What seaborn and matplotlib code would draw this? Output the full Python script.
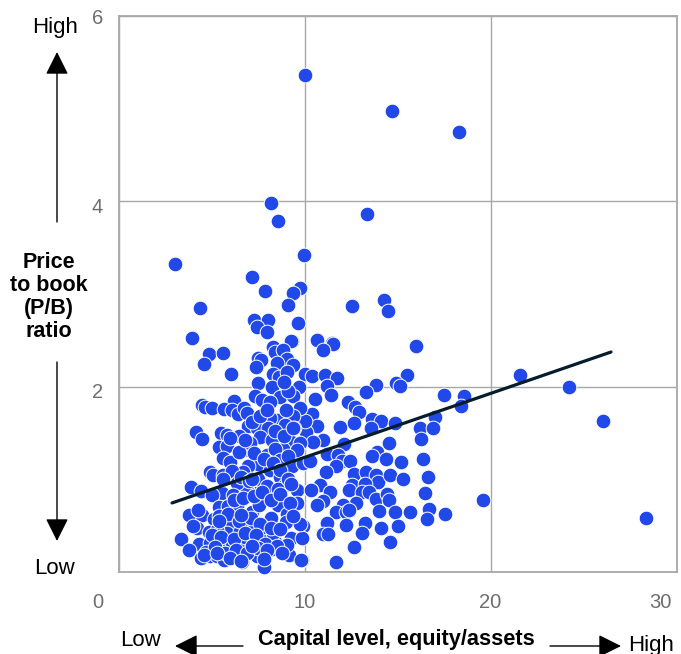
import pandas as pd
import matplotlib
matplotlib.use('Agg')
import matplotlib.pyplot as plt
from matplotlib.patches import FancyArrowPatch
from matplotlib.transforms import ScaledTranslation
import seaborn as sns

capital = [
    10.0, 14.7, 18.3, 8.2, 8.58, 13.36, 9.97, 3.04, 7.18, 7.88, 9.76, 9.38, 9.11, 4.38, 12.55, 14.27, 14.49,
    7.28, 8.04, 9.65, 7.45, 7.98, 10.67, 11.48, 11.0, 9.33, 16.0, 21.59, 24.2, 26.05, 28.36, 19.6,
    10.66, 11.53, 11.01, 15.53, 13.86, 13.31, 14.9, 15.15, 17.52, 18.58, 18.42,
    10.05, 10.42, 11.09, 11.73, 11.23, 11.41, 10.55, 12.36, 12.72, 12.91, 13.63, 14.13, 14.87, 17.02, 16.21, 16.91, 16.27,
    11.93, 12.68, 13.58, 10.42, 10.66, 10.06, 10.03, 11.0, 12.13, 10.48, 11.19, 14.56, 13.92, 13.61, 14.38, 15.19, 16.39,
    16.64, 16.5, 16.71, 16.57, 17.57, 11.82, 12.0, 12.45, 11.7, 11.16, 10.84, 10.37, 11.36, 12.66, 13.31, 13.83, 13.97,
    14.6, 15.28, 12.54, 13.25, 12.41, 13.08, 13.47, 13.85, 14.42, 14.53, 12.77, 14.03, 14.85, 15.69, 10.66, 11.01, 12.09,
    11.68, 12.23, 12.41, 11.19, 12.23, 13.27, 13.09, 14.1, 15.03, 14.62, 12.66, 10.98, 11.28, 11.68, 9.85, 9.85, 9.94,
    3.97, 4.85, 5.6, 4.61, 6.07, 8.32, 9.27, 8.41, 8.84, 9.04, 7.52, 7.64, 7.37, 8.5, 9.4, 8.32, 8.65, 9.04, 7.48, 8.23,
    9.72, 8.68, 9.4, 7.34, 7.7, 8.14, 6.23, 4.47, 4.65, 5.01, 5.67, 6.08, 6.44, 6.76, 6.93, 7.82, 9.76, 9.4, 8.5, 8.14,
    8.95, 6.98, 7.46, 8.05, 9.45, 7.6, 8.23, 9.22, 9.76, 4.17, 4.47, 5.49, 5.85, 6.5, 5.38, 5.81, 7.03, 7.07, 8.82, 7.96,
    8.41, 9.58, 5.64, 5.99, 7.52, 6.98, 8.68, 9.31, 9.94, 4.92, 5.1, 5.64, 6.71, 6.08, 8.14, 8.68, 8.95, 3.88, 4.42, 7.55,
    6.93, 6.35, 5.58, 5.01, 6.17, 7.96, 8.56, 9.58, 9.58, 10.35, 10.65, 5.38, 5.9, 6.35, 7.16, 7.57, 8.18, 9.04, 8.99,
    3.81, 4.47, 4.29, 5.13, 6.07, 6.71, 7.21, 4.2, 3.99, 4.88, 5.81, 5.56, 3.34, 4.33, 3.81, 4.92, 7.07, 7.7, 8.41, 8.32,
    9.25, 9.85, 9.76, 6.44, 7.57, 4.43, 4.92, 5.31, 5.69, 6.62, 7.43, 7.82, 9.18, 9.79, 8.23, 6.08, 9.04, 6.53, 7.79, 6.8, 5.28,
    7.2, 7.6, 8.0, 8.4, 8.9, 7.3, 7.8, 8.3, 8.7, 9.1, 6.6, 7.0, 7.5, 8.0, 8.6, 9.1, 6.2, 6.7, 7.3, 7.7, 8.2, 8.7, 5.4, 5.9,
    6.5, 7.1, 7.6, 8.2, 8.7, 5.0, 5.5, 6.2, 6.8, 7.4, 7.9, 8.5, 4.7, 5.2, 5.7, 6.3, 6.9, 7.5, 8.0, 8.8, 4.6, 5.3, 6.0, 6.6,
    7.2, 7.8, 5.6, 6.5, 6.0, 6.8, 7.2, 9.2, 9.3, 9.4, 9.0, 9.1, 8.9, 5.4, 6.6, 9.4, 10.3,
]
pb_ratio = [
    5.36, 4.98, 4.75, 3.98, 3.79, 3.86, 3.42, 3.32, 3.18, 3.03, 3.06, 3.01, 2.88, 2.85, 2.87, 2.94, 2.82,
    2.72, 2.72, 2.69, 2.64, 2.59, 2.50, 2.47, 2.40, 2.49, 2.44, 2.13, 2.0, 1.63, 0.58, 0.78,
    2.50, 2.46, 2.40, 2.13, 2.02, 1.94, 2.04, 2.01, 1.91, 1.90, 1.79,
    2.14, 2.11, 2.13, 2.09, 2.01, 1.91, 1.87, 1.83, 1.78, 1.73, 1.65, 1.63, 1.61, 1.67, 1.55, 1.55, 1.43,
    1.56, 1.61, 1.55, 1.70, 1.58, 1.51, 1.63, 1.42, 1.38, 1.40, 1.27, 1.39, 1.30, 1.25, 1.22, 1.19, 1.22,
    1.02, 0.85, 0.68, 0.57, 0.63, 1.26, 1.20, 1.20, 1.14, 1.08, 0.94, 0.89, 0.86, 1.06, 1.08, 1.05, 0.97,
    1.05, 1.0, 0.94, 0.95, 0.88, 0.86, 0.86, 0.79, 0.84, 0.78, 0.74, 0.66, 0.65, 0.65, 0.72, 0.77, 0.72,
    0.65, 0.65, 0.67, 0.53, 0.51, 0.53, 0.42, 0.48, 0.50, 0.32, 0.27, 0.41, 0.41, 0.11, 0.13, 0.38, 0.50,
    2.52, 2.35, 2.36, 2.24, 2.14, 2.43, 2.49, 2.37, 2.40, 2.30, 2.31, 2.29, 2.21, 2.26, 2.23, 2.14, 2.10, 2.16, 2.04, 2.0,
    2.0, 1.89, 1.90, 1.90, 1.86, 1.83, 1.85, 1.80, 1.78, 1.77, 1.76, 1.75, 1.71, 1.77, 1.72, 1.70, 1.77, 1.68, 1.64, 1.66,
    1.59, 1.58, 1.55, 1.55, 1.55, 1.46, 1.42, 1.41, 1.39, 1.51, 1.43, 1.50, 1.48, 1.47, 1.35, 1.36, 1.32, 1.39, 1.33, 1.26,
    1.33, 1.32, 1.23, 1.19, 1.17, 1.14, 1.21, 1.14, 1.18, 1.08, 1.05, 1.05, 1.08, 1.09, 1.10, 1.03, 0.94, 0.92, 0.87, 0.96,
    0.89, 0.96, 0.85, 0.83, 0.83, 0.80, 0.72, 0.88, 0.75, 0.88, 0.72, 0.70, 0.71, 0.71, 0.65, 0.72, 0.58, 0.63, 0.54,
    0.62, 0.61, 0.67, 0.57, 0.54, 0.52, 0.45, 0.47, 0.50, 0.43, 0.42, 0.35, 0.36, 0.30, 0.24, 0.31, 0.33, 0.36, 0.32, 0.42,
    0.37, 0.37, 0.52, 0.26, 0.23, 0.15, 0.17, 0.17, 0.13, 0.11, 0.17, 0.05, 0.18, 0.13, 0.25, 0.31, 0.29, 0.44, 0.49, 0.38, 0.45,
    1.62, 1.68, 1.75, 1.52, 1.47, 1.28, 1.22, 1.18, 1.10, 1.25, 1.02, 0.98, 1.0, 0.93, 0.90, 1.0, 0.78, 0.80, 0.82, 0.86, 0.78, 0.84, 0.60, 0.63,
    0.55, 0.58, 0.52, 0.48, 0.46, 0.40, 0.38, 0.36, 0.42, 0.40, 0.30, 0.28, 0.22, 0.27, 0.20, 0.24, 0.20, 0.26, 0.24, 0.20, 0.18, 0.21, 0.15, 0.12,
    0.28, 0.14, 1.0, 1.3, 1.45, 1.42, 1.0, 0.75, 0.95, 1.55, 1.75, 1.95, 2.05, 0.55, 0.62, 0.6, 1.2,
]
trend_capital = [2.88, 26.48]
trend_pb = [0.745, 2.374]

x_ticks = [0, 10, 20, 30]
y_ticks = [2, 4, 6]

W, H = 681, 654


def px(x, y):
    """Pixel position in the picture to figure fraction."""
    return x / W, 1 - y / H


def arrow(fig, start, end):
    fig.add_artist(FancyArrowPatch(
        px(*start), px(*end), transform=fig.transFigure, arrowstyle='-|>,head_length=1.0,head_width=0.5',
        color='black', lw=1.0, mutation_scale=14, shrinkA=0, shrinkB=0))


def nudge(label, dx, dy):
    """Shift a tick label by some pixels."""
    label.set_transform(label.get_transform() + ScaledTranslation(dx / 100, dy / 100, fig.dpi_scale_trans))


sns.set_theme(style='white')
plt.rcParams['font.family'] = ['Liberation Sans', 'DejaVu Sans']

data = pd.DataFrame({'capital': capital, 'pb': pb_ratio})
trend = pd.DataFrame({'capital': trend_capital, 'pb': trend_pb})

fig = plt.figure(figsize=(W / 100, H / 100), dpi=100)
ax = fig.add_axes([118.5 / W, 1 - 572 / H, 558 / W, 556 / H])

sns.scatterplot(data=data, x='capital', y='pb', ax=ax, color='#2148e8', s=112, edgecolor='white',
                linewidth=0.7, clip_on=False, zorder=3)
sns.lineplot(data=trend, x='capital', y='pb', ax=ax, color='#051c2c', lw=2.3, zorder=4)

ax.set_xlim(0, 30)
ax.set_ylim(0, 6)
ax.set_xticks(x_ticks)
ax.set_yticks(y_ticks)
ax.set_xlabel('')
ax.set_ylabel('')
ax.grid(True, color='#a8a8a8', lw=1)
ax.set_axisbelow(True)
ax.tick_params(axis='both', length=0, labelsize=14.5, labelcolor='#6e6e6e')
ax.tick_params(axis='x', pad=15)
ax.tick_params(axis='y', pad=11)
for side in ax.spines:
    ax.spines[side].set_color('#a8a8a8')
    ax.spines[side].set_linewidth(1.3)

# the labels do not sit quite on their gridlines
x_labels = ax.get_xticklabels()
nudge(x_labels[0], -21, 0)
nudge(x_labels[-1], -16, 0)
y_labels = ax.get_yticklabels()
nudge(y_labels[0], 0, -4)
nudge(y_labels[1], 0, -4)
nudge(y_labels[2], 0, -1)

fig.text(*px(55, 28), 'High', fontsize=16, ha='center', va='center', color='black')
fig.text(*px(55, 568), 'Low', fontsize=16, ha='center', va='center', color='black')
fig.text(*px(49, 297), 'Price\nto book\n(P/B)\nratio', fontsize=15.5, fontweight='bold', ha='center',
         va='center', linespacing=1.11, color='black')
fig.text(*px(141, 641), 'Low', fontsize=16, ha='center', va='center', color='black')
fig.text(*px(651, 645), 'High', fontsize=16, ha='center', va='center', color='black')
fig.text(*px(396, 640), 'Capital level, equity/assets', fontsize=15.7, fontweight='bold', ha='center',
         va='center', color='black')

arrow(fig, (57, 222), (57, 52))
arrow(fig, (57, 362), (57, 541))
arrow(fig, (243, 646), (175, 646))
arrow(fig, (550, 646), (621, 646))

fig.savefig('out.png', dpi=100)
